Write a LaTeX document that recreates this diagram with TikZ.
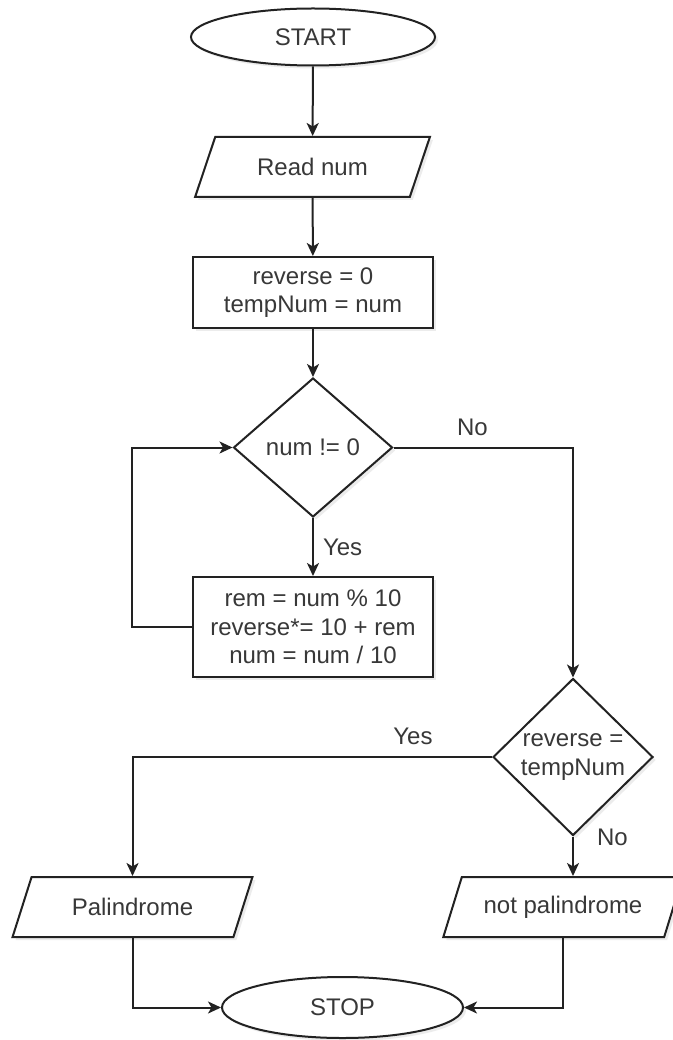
\documentclass[tikz,border=0pt]{standalone}
\usepackage{fontspec}
\setmainfont{Liberation Sans}
\usetikzlibrary{shapes.geometric,arrows.meta,shadows}
\definecolor{ink}{HTML}{222222}
\definecolor{txt}{HTML}{383838}
\begin{document}
\begin{tikzpicture}[x=1pt,y=-1pt,
  base/.style={draw=ink, line width=2pt, fill=white, text=txt,
    font=\fontsize{24}{28.5}\selectfont, align=center, inner sep=0pt,
    drop shadow={shadow xshift=3pt, shadow yshift=-3pt, opacity=0.15}},
  term/.style={base, ellipse, minimum width=242pt, minimum height=60pt},
  io/.style={base, trapezium, trapezium left angle=57, trapezium right angle=123,
    trapezium stretches=true, minimum width=240pt, minimum height=60pt},
  proc/.style={base, rectangle, minimum width=240pt},
  decision/.style={base, diamond},
  conn/.style={draw=ink, line width=2pt, -{Stealth[length=13pt,width=12pt,inset=3.5pt]}},
  lbl/.style={text=txt, font=\fontsize{24}{28}\selectfont, inner sep=0pt}]
\fill[white] (0,0) rectangle (672,1040);
\useasboundingbox (0,0) rectangle (672,1040);

\node[term, minimum width=244pt, minimum height=57pt] (start) at (313,37) {START};
\node[io, minimum width=235pt] (read) at (312.5,167) {Read num};
\node[proc, minimum height=71pt] (init) at (313,292.5) {reverse = 0\\tempNum = num};
\node[decision, minimum width=159pt, minimum height=139pt] (d1) at (313,447.5) {num != 0};
\node[proc, minimum height=100pt] (body) at (313,627) {rem = num \% 10\\reverse*= 10 + rem\\num = num / 10};
\node[decision, minimum width=160pt, minimum height=157pt] (d2) at (573,757) {reverse =\\tempNum};
\node[io] (pal) at (132.5,907) {Palindrome};
\node[io] (npal) at (563,907) {not palindrome};
\node[term, minimum width=241pt, minimum height=61pt] (stop) at (342.5,1007.5) {STOP};

\draw[conn] (start) -- (read);
\draw[conn] (read) -- (init);
\draw[conn] (init) -- (d1);
\draw[conn] (d1) -- node[lbl, midway, right=9pt] (yes1) {Yes} (body);
\draw[conn] (body.west) -- ++(-60,0) |- (d1.west);
\draw[conn] (d1.east) -| node[lbl, pos=0.22, above=11pt] (no1) {No} (d2.north);
\draw[conn] (d2.west) -| node[lbl, pos=0.11, above=11pt] (yes2) {Yes} (pal.north);
\draw[conn] (d2.south) -- node[lbl, pos=0.03, right=23pt] (no2) {No} (d2.south |- npal.north);
\draw[conn] (pal.south) |- (stop.west);
\draw[conn] (npal.south) |- (stop.east);
\end{tikzpicture}
\end{document}
